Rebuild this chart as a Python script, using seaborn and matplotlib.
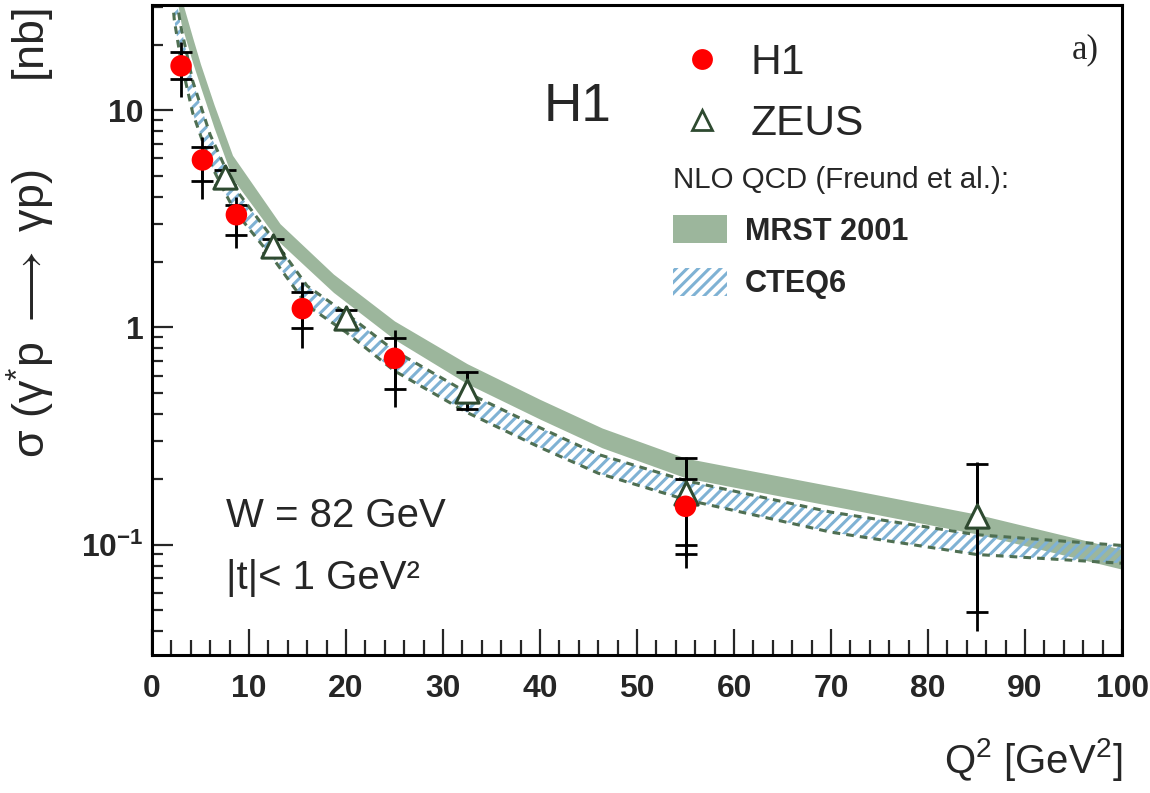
import matplotlib
matplotlib.use("Agg")
import matplotlib.pyplot as plt
import seaborn as sns
from matplotlib import font_manager
from matplotlib.lines import Line2D
from matplotlib.patches import Patch
from matplotlib.ticker import LogLocator, NullFormatter, MultipleLocator

# H1 points: value, stat error (capped) and total error (plain line)
h1_q2 = [3.0, 5.2, 8.7, 15.5, 25.0, 55.0]
h1_sig = [16.0, 5.9, 3.3, 1.22, 0.72, 0.15]
h1_stat_lo = [13.9, 4.7, 2.67, 0.99, 0.52, 0.10]
h1_stat_hi = [18.5, 6.8, 3.67, 1.45, 0.89, 0.20]
h1_tot_lo = [11.5, 3.9, 2.32, 0.80, 0.43, 0.078]
h1_tot_hi = [20.7, 7.5, 4.0, 1.62, 0.97, 0.25]

# ZEUS points
zeus_q2 = [7.5, 12.5, 20.0, 32.5, 55.0, 85.0]
zeus_sig = [4.9, 2.38, 1.1, 0.51, 0.172, 0.135]
zeus_stat_lo = [4.5, 2.2, 1.0, 0.42, 0.09, 0.049]
zeus_stat_hi = [5.3, 2.55, 1.2, 0.62, 0.25, 0.234]
zeus_tot_lo = [4.4, 2.15, 0.98, 0.41, 0.088, 0.040]
zeus_tot_hi = [5.4, 2.6, 1.22, 0.63, 0.252, 0.24]

# NLO QCD bands (Freund et al.)
mrst_q2 = [2.0, 2.7, 3.0, 4.2, 5.0, 6.4, 8.3, 13.2, 18.7, 25.0, 32.5, 40.0,
           46.4, 55.0, 61.0, 71.7, 85.0, 100.0]
mrst_hi = [72, 40, 33, 21.5, 16.3, 10.6, 6.2, 3.0, 1.76, 1.07, 0.68, 0.466,
           0.344, 0.25, 0.222, 0.18, 0.138, 0.095]
mrst_lo = [50, 30, 25, 16.5, 12.8, 8.3, 4.85, 2.45, 1.45, 0.88, 0.55, 0.378,
           0.279, 0.203, 0.18, 0.146, 0.112, 0.077]

cteq_q2 = [2.0, 2.3, 3.0, 4.2, 6.0, 7.5, 8.5, 12.5, 16.0, 20.0, 25.0, 32.5,
           40.0, 46.0, 55.0, 70.0, 85.0, 100.0]
cteq_hi = [55, 37, 24, 13.6, 7.7, 5.5, 4.4, 2.55, 1.55, 1.16, 0.78, 0.50,
           0.345, 0.26, 0.197, 0.141, 0.111, 0.099]
cteq_lo = [37, 26, 16.7, 9.7, 5.7, 4.2, 3.45, 2.07, 1.26, 0.95, 0.63, 0.405,
           0.28, 0.213, 0.161, 0.114, 0.090, 0.082]

y_ticks = [0.1, 1, 10]
y_ticklabels = [r"$\mathbf{10^{-1}}$", "1", "10"]

sns.set_style("ticks")

names = {f.name for f in font_manager.fontManager.ttflist}
if "Liberation Sans Narrow" in names:
    fam = "Liberation Sans Narrow"
    k = 1.0
else:
    fam = "Liberation Sans"
    k = 0.85
plt.rcParams["font.family"] = [fam, "DejaVu Sans"]
plt.rcParams["mathtext.fontset"] = "custom"
plt.rcParams["mathtext.rm"] = fam
plt.rcParams["mathtext.it"] = fam
plt.rcParams["mathtext.bf"] = fam + ":bold"
plt.rcParams["mathtext.fallback"] = "stixsans"
plt.rcParams["hatch.linewidth"] = 2.2

W, H = 1150, 793
fig = plt.figure(figsize=(W / 100, H / 100), dpi=100)
ax = fig.add_axes([152 / W, 1 - 655 / H, 970 / W, 650 / H])

mrst_col = "#9cb69c"
cteq_col = "#7fb2d4"
edge_col = "#4f6f52"
zeus_col = "#2e4a30"

# bands
ax.fill_between(mrst_q2, mrst_lo, mrst_hi, color=mrst_col, lw=0, zorder=1)
ax.fill_between(cteq_q2, cteq_lo, cteq_hi, facecolor="none",
                edgecolor=cteq_col, hatch="///", lw=0, zorder=2)
for edge in (cteq_lo, cteq_hi):
    sns.lineplot(x=cteq_q2, y=edge, ax=ax, color=edge_col, lw=2.2,
                 linestyle=(0, (2.5, 2)), zorder=2)

# error bars
def err(v, lo, hi):
    return [[a - b for a, b in zip(v, lo)], [b - a for a, b in zip(v, hi)]]

ax.errorbar(zeus_q2, zeus_sig, yerr=err(zeus_sig, zeus_tot_lo, zeus_tot_hi),
            fmt="none", ecolor="k", elinewidth=2, capsize=0, zorder=3)
ax.errorbar(zeus_q2, zeus_sig, yerr=err(zeus_sig, zeus_stat_lo, zeus_stat_hi),
            fmt="none", ecolor="k", elinewidth=2, capsize=8, capthick=2, zorder=3)
ax.errorbar(h1_q2, h1_sig, yerr=err(h1_sig, h1_tot_lo, h1_tot_hi),
            fmt="none", ecolor="k", elinewidth=2, capsize=0, zorder=3)
ax.errorbar(h1_q2, h1_sig, yerr=err(h1_sig, h1_stat_lo, h1_stat_hi),
            fmt="none", ecolor="k", elinewidth=2, capsize=8, capthick=2, zorder=3)

# markers
sns.scatterplot(x=zeus_q2, y=zeus_sig, ax=ax, marker="^", s=280,
                facecolor="white", edgecolor=zeus_col, linewidth=2.2, zorder=4)
sns.scatterplot(x=h1_q2, y=h1_sig, ax=ax, marker="o", s=240,
                color="#ff0000", edgecolor="none", zorder=5)

ax.set_yscale("log")
ax.set_xlim(0, 100)
ax.set_ylim(0.031, 30.5)
ax.set_yticks(y_ticks, labels=y_ticklabels)
ax.yaxis.set_minor_locator(LogLocator(base=10, subs=range(2, 10)))
ax.yaxis.set_minor_formatter(NullFormatter())
ax.xaxis.set_major_locator(MultipleLocator(10))
ax.xaxis.set_minor_locator(MultipleLocator(2))

ax.tick_params(axis="x", which="major", direction="in", length=19, width=1.6,
               labelsize=27 * k, pad=14)
ax.tick_params(axis="x", which="minor", direction="in", length=11, width=1.6)
ax.tick_params(axis="y", which="major", direction="in", length=15, width=1.6,
               labelsize=27 * k, pad=6)
ax.tick_params(axis="y", which="minor", direction="in", length=8, width=1.6)
for lab in ax.get_xticklabels() + ax.get_yticklabels():
    lab.set_fontweight("bold")
for sp in ax.spines.values():
    sp.set_linewidth(2.2)
    sp.set_color("black")

ax.set_xlabel(r"Q$^2$ [GeV$^2$]", fontsize=34 * k, loc="right")
ax.xaxis.set_label_coords(1.0, -0.125)
ax.set_ylabel(r"σ (γ$^{*}$p $\longrightarrow$ γp)       [nb]",
              fontsize=38 * k, loc="top")
ax.yaxis.set_label_coords(-0.098, 0.995)

# texts
fig.text(578 / W, 1 - 107 / H, "H1", fontsize=45 * k, ha="center", va="center")
fig.text(1085 / W, 1 - 50 / H, "a)", fontsize=25, family="Liberation Serif",
         ha="center", va="center")
fig.text(226 / W, 1 - 516 / H, "W = 82 GeV", fontsize=34 * k, va="center")
fig.text(226 / W, 1 - 578 / H, "|t|< 1 GeV²", fontsize=34 * k, va="center")

# legends
h1_h = Line2D([], [], marker="o", ls="none", color="#ff0000", ms=15, mec="none")
zeus_h = Line2D([], [], marker="^", ls="none", mfc="white", mec=zeus_col,
                ms=14, mew=2)
leg1 = ax.legend([h1_h, zeus_h], ["H1", "ZEUS"], loc="upper left",
                 bbox_to_anchor=(680 / W, 1 - 43 / H),
                 bbox_transform=fig.transFigure, frameon=False,
                 fontsize=36 * k, handlelength=1.05, handletextpad=0.62,
                 labelspacing=0.5, borderpad=0, borderaxespad=0)
ax.add_artist(leg1)

mrst_h = Patch(facecolor=mrst_col, edgecolor="none")
cteq_h = Patch(facecolor="white", edgecolor=cteq_col, hatch="///", lw=0)
leg2 = ax.legend([mrst_h, cteq_h], ["MRST 2001", "CTEQ6"], loc="upper left",
                 bbox_to_anchor=(673 / W, 1 - 166 / H),
                 bbox_transform=fig.transFigure, frameon=False,
                 title="NLO QCD (Freund et al.):", title_fontsize=25 * k,
                 alignment="left",
                 prop={"weight": "bold", "size": 26 * k},
                 handlelength=1.75, handleheight=1.0, handletextpad=0.6,
                 labelspacing=0.7, borderpad=0, borderaxespad=0)

fig.savefig("out.png", dpi=100)
